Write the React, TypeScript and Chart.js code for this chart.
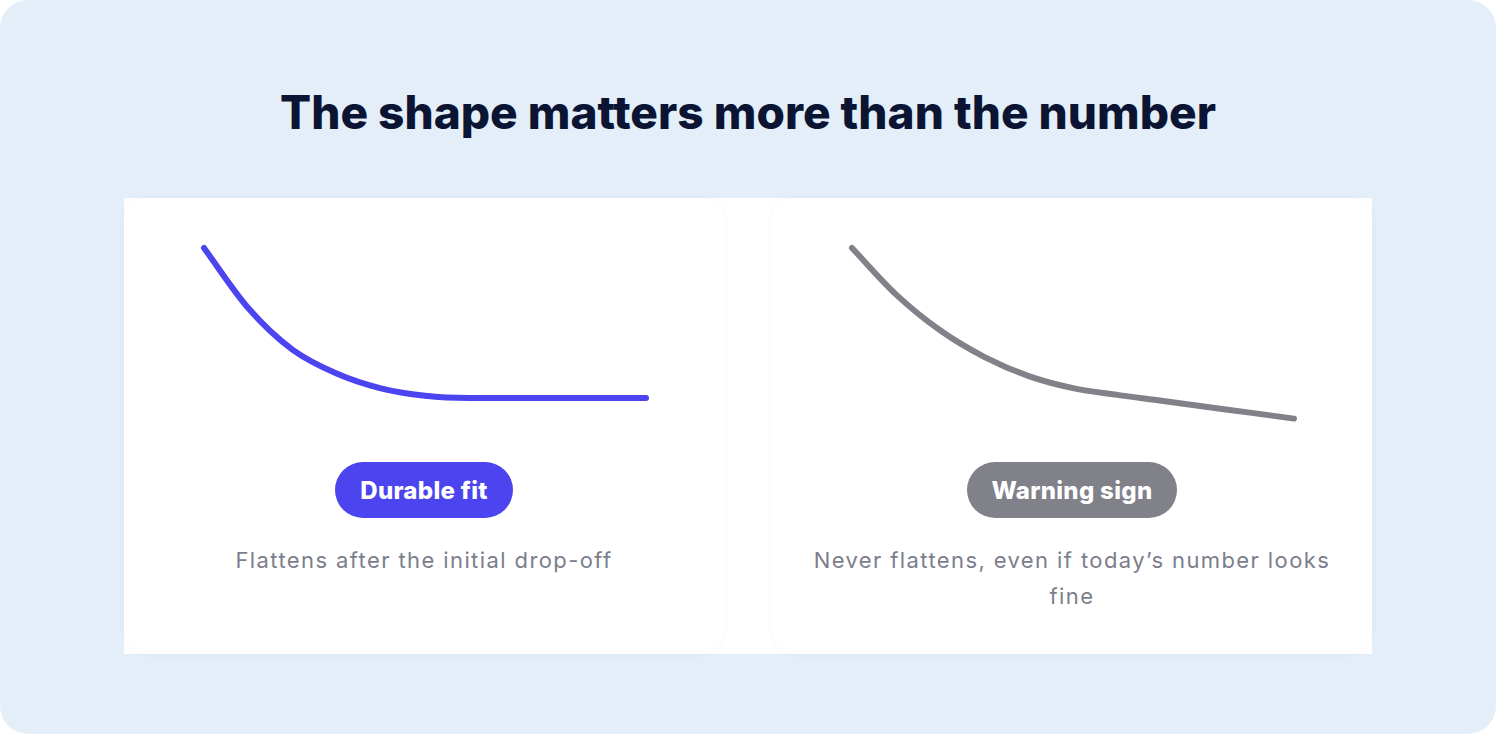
import { useEffect, useRef } from 'react';
import Chart from 'chart.js/auto';

// ============= DATA =============
const steps = ['0', '1', '2', '3', '4', '5', '6', '7', '8', '9', '10'];
const durableValues = [100, 65.1, 40.9, 27.0, 18.4, 14.1, 12.8, 12.8, 12.8, 12.8, 12.8];
const warningValues = [100, 72.9, 52.0, 36.6, 25.5, 18.5, 14.6, 11.2, 7.7, 4.3, 0.8];
const cardTitles = ['Durable fit', 'Warning sign'];
const cardNotes = ['Flattens after the initial drop-off', 'Never flattens, even if today\u2019s number looks fine'];
const cardColors = ['#4B44EF', '#808189'];

const FONT = 'Inter, "Open Sans", sans-serif';

// ============= CURVE COMPONENT =============
interface CurveProps {
    values: number[];
    color: string;
}

const Curve = ({ values, color }: CurveProps) => {
    const chartRef = useRef<HTMLCanvasElement>(null);
    const chartInstance = useRef<Chart | null>(null);

    useEffect(() => {
        if (!chartRef.current) return;
        if (chartInstance.current) chartInstance.current.destroy();
        const ctx = chartRef.current.getContext('2d');
        if (!ctx) return;

        chartInstance.current = new Chart(ctx, {
            type: 'line',
            data: {
                labels: steps,
                datasets: [{
                    data: values,
                    borderColor: color,
                    borderWidth: 6,
                    borderCapStyle: 'round',
                    borderJoinStyle: 'round',
                    pointRadius: 0,
                    cubicInterpolationMode: 'monotone',
                    fill: false,
                    clip: false
                }]
            },
            options: {
                animation: false,
                responsive: false,
                maintainAspectRatio: false,
                layout: { padding: 20 },
                plugins: {
                    legend: { display: false },
                    tooltip: { enabled: false }
                },
                scales: {
                    x: { display: false, offset: false },
                    y: { display: false, min: 0, max: 100 }
                }
            }
        });

        return () => {
            if (chartInstance.current) {
                chartInstance.current.destroy();
                chartInstance.current = null;
            }
        };
    }, [values, color]);

    return (
        <canvas
            ref={chartRef}
            width={482}
            height={212}
            style={{ position: 'absolute', left: 60, top: 30, width: 482, height: 212 }}
        />
    );
};

// ============= CARD =============
const Card = ({ idx, left }: { idx: number; left: number }) => (
    <div style={{
        position: 'absolute', left, top: 0, width: 600, height: 456,
        background: '#fff', borderRadius: 24,
        boxShadow: '0 0 10px rgba(0,0,0,0.035)'
    }}>
        <Curve values={idx === 0 ? durableValues : warningValues} color={cardColors[idx]} />
        <div style={{ position: 'absolute', top: 264, left: 0, width: 600, display: 'flex', justifyContent: 'center' }}>
            <div style={{
                height: 56, padding: '0 25px', borderRadius: 28, background: cardColors[idx],
                color: '#fff', fontFamily: FONT, fontWeight: 800, fontSize: 24, letterSpacing: 0.3,
                display: 'flex', alignItems: 'center'
            }}>{cardTitles[idx]}</div>
        </div>
        <div style={{
            position: 'absolute', top: 344, left: 30, width: 540, textAlign: 'center',
            fontFamily: FONT, fontSize: 22, letterSpacing: 1.4, lineHeight: '36px', color: '#7B7E8C'
        }}>{cardNotes[idx]}</div>
    </div>
);

export default function App() {
    return (
        <div style={{ position: 'fixed', left: 0, top: 0, width: 1496, height: 734, background: '#fff' }}>
            <div style={{ position: 'absolute', inset: 0, background: '#E4EEF9', borderRadius: 28 }}>
                <div style={{
                    position: 'absolute', top: 89, left: 0, width: 1496, textAlign: 'center',
                    fontFamily: FONT, fontWeight: 800, fontSize: 46, lineHeight: '46px', color: '#0B1533'
                }}>The shape matters more than the number</div>
                <div style={{ position: 'absolute', left: 124, top: 198, width: 1248, height: 456, background: '#fff' }}>
                    <Card idx={0} left={0} />
                    <Card idx={1} left={648} />
                </div>
            </div>
        </div>
    );
}
